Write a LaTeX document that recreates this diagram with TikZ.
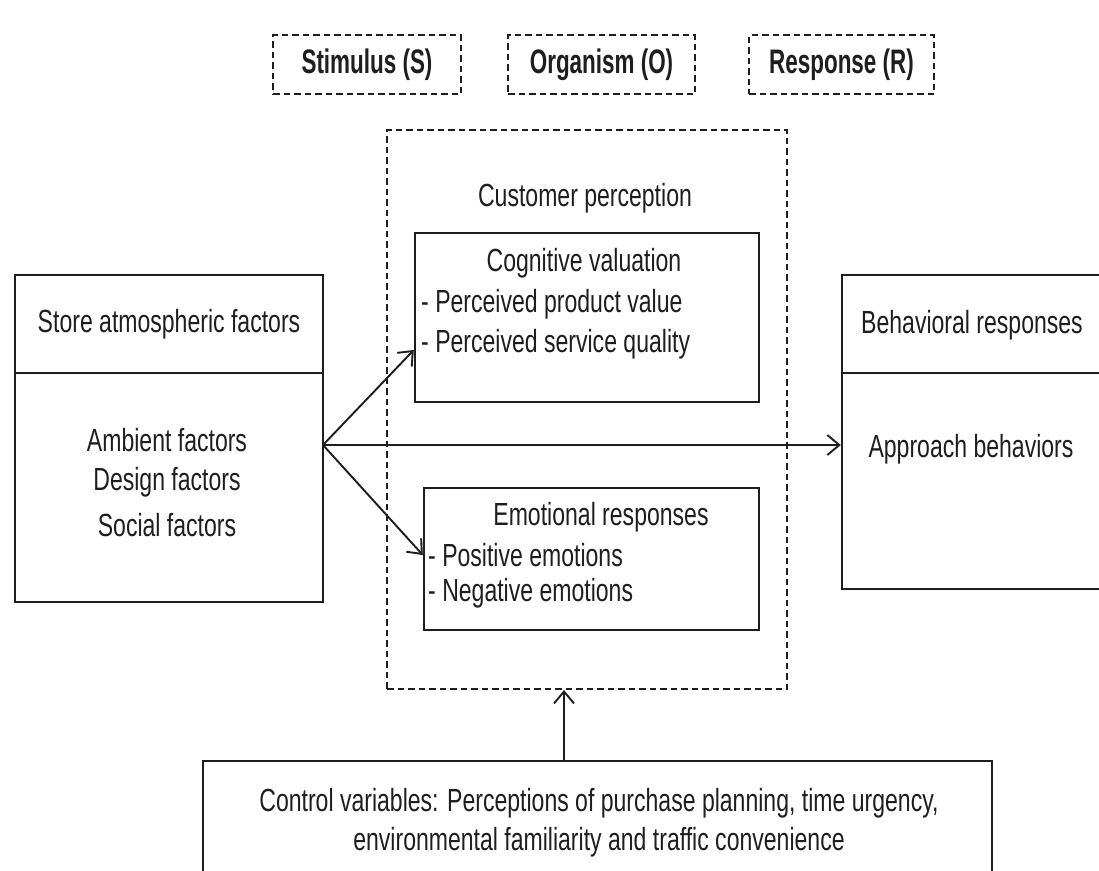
\documentclass[tikz,border=0pt]{standalone}
\usepackage{fontspec}
\setmainfont{Liberation Sans}[FakeStretch=0.72]
\newfontfamily\headfont{Liberation Sans}[FakeStretch=0.66]
\usetikzlibrary{arrows.meta}
\definecolor{ink}{RGB}{30,30,30}
\begin{document}
\begin{tikzpicture}[x=1pt,y=-1pt,
  txt/.style={inner sep=0pt, text=ink, font=\fontsize{32}{38}\selectfont},
  solidbox/.style={draw=ink, line width=2.4pt, rectangle, inner sep=0pt},
  dashbox/.style={draw=ink, line width=2pt, dash pattern=on 6.5pt off 4pt, rectangle, inner sep=0pt},
  headtxt/.style={txt, font=\headfont\bfseries\fontsize{34}{40}\selectfont},
  rule/.style={draw=ink, line width=2.4pt},
  arr/.style={draw=ink, line width=1.9pt, -{Straight Barb[length=12pt,width=20pt,line width=1.9pt]}},
]
\useasboundingbox[fill=white] (0,0) rectangle (1099,870);
\clip (0,0) rectangle (1099,870);

% S-O-R headings
\node[dashbox, minimum width=188pt, minimum height=59pt] (stim) at (367,64.5) {};
\node[headtxt] (stimtxt) at (stim.center) {Stimulus (S)};
\node[dashbox, minimum width=187pt, minimum height=59pt] (orgn) at (601.5,64.5) {};
\node[headtxt] (orgntxt) at (orgn.center) {Organism (O)};
\node[dashbox, minimum width=185pt, minimum height=59pt] (resp) at (841.5,64.5) {};
\node[headtxt] (resptxt) at (resp.center) {Response (R)};

% organism frame
\node[dashbox, minimum width=400pt, minimum height=559pt] (outer) at (587,409.5) {};
\node[txt] (custp) at (585,198) {Customer perception};

% cognitive valuation
\node[solidbox, minimum width=344pt, minimum height=169pt] (cog) at (587,317.5) {};
\node[txt] (cogt) at (584,263) {Cognitive valuation};
\node[txt, anchor=west] (cog1) at (421,304) {- Perceived product value};
\node[txt, anchor=west] (cog2) at (421,344) {- Perceived service quality};

% emotional responses
\node[solidbox, minimum width=335pt, minimum height=142pt] (emo) at (591.5,559) {};
\node[txt] (emot) at (601,517) {Emotional responses};
\node[txt, anchor=west] (emo1) at (428,555) {- Positive emotions};
\node[txt, anchor=west] (emo2) at (428,593) {- Negative emotions};

% store atmospheric factors
\node[solidbox, minimum width=308pt, minimum height=327pt] (store) at (169,438.5) {};
\node[txt] (storet) at (169,324) {Store atmospheric factors};
\draw[rule] (store.west |- 0,373) -- (store.east |- 0,373);
\node[txt] (amb) at (167,440) {Ambient factors};
\node[txt] (des) at (167,482) {Design factors};
\node[txt] (soc) at (167,525) {Social factors};

% behavioral responses
\node[solidbox, minimum width=268pt, minimum height=314pt] (behav) at (976,432) {};
\node[txt] (behavt) at (972,325) {Behavioral responses};
\draw[rule] (behav.west |- 0,373) -- (behav.east |- 0,373);
\node[txt] (appr) at (971,449) {Approach behaviors};

% control variables
\node[solidbox, minimum width=789pt, minimum height=139pt] (ctrl) at (597.5,830.5) {};
\node[txt, align=center, font=\fontsize{32}{39}\selectfont] (ctrlt) at (599,822.5)
  {Control variables: Perceptions of purchase planning, time urgency,\\
   environmental familiarity and traffic convenience};

% connectors
\coordinate (fork) at (323,445);
\draw[arr] (fork) -- (cog.west |- 0,350);
\draw[arr] (fork) -- (emo.west |- 0,555);
\draw[arr] (fork) -- (behav.west |- fork);
\draw[arr] (ctrl.north -| 564,0) -- (outer.south -| 564,0);
\end{tikzpicture}
\end{document}
